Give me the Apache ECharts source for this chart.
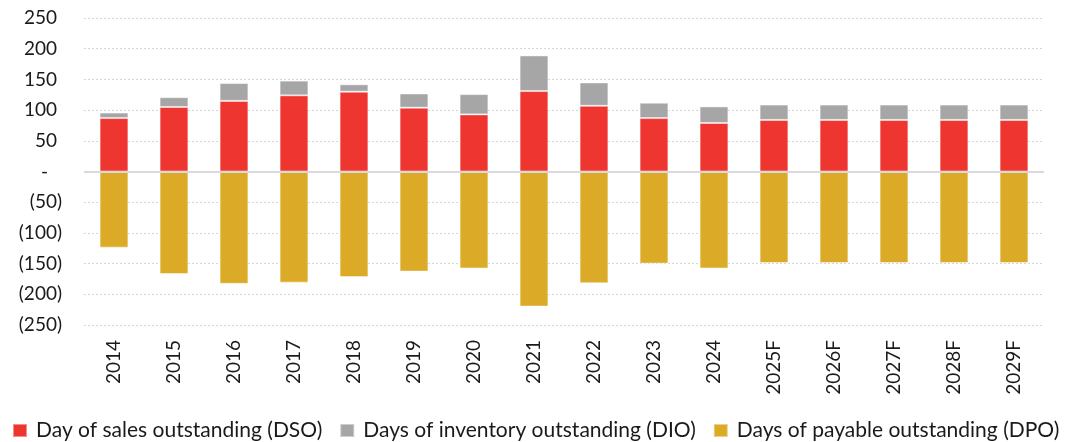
<!DOCTYPE html>
<html>
<head>
<meta charset="utf-8">
<script src="https://cdn.jsdelivr.net/npm/echarts@6/dist/echarts.min.js"></script>
<style>
  html, body { margin: 0; padding: 0; background: #fff; }
  #chart { width: 1075px; height: 442px; }
</style>
</head>
<body>
<div id="chart"></div>
<script>
var years = ['2014', '2015', '2016', '2017', '2018', '2019', '2020', '2021', '2022', '2023', '2024', '2025F', '2026F', '2027F', '2028F', '2029F']
var dso = [87, 105, 115, 124, 130, 104, 93, 131, 107, 87, 79, 84, 84, 84, 84, 84]
var dio = [9, 16, 29, 24, 12, 23, 33, 58, 38, 25, 27, 25, 25, 25, 25, 25]
var dpo = [-124, -167, -183, -181, -172, -163, -158, -220, -182, -150, -158, -149, -149, -149, -149, -149]
var yTicks = [-250, -200, -150, -100, -50, 0, 50, 100, 150, 200, 250]

var font = 'Lato, "Noto Sans", sans-serif'
var txt = '#1a1a1a'
var myChart = echarts.init(document.getElementById('chart'))

function barStyle (color) {
  return {
    color: color,
    borderColor: 'rgba(255,255,255,0.45)',
    borderWidth: 1
  }
}

myChart.setOption({
  animation: false,
  textStyle: { fontFamily: font },
  grid: {
    left: 84,
    right: 31,
    top: 18,
    bottom: 117
  },
  legend: {
    left: 7,
    bottom: -4,
    itemWidth: 14,
    itemHeight: 13,
    itemGap: 17,
    icon: 'rect',
    textStyle: { fontSize: 21, color: txt, fontFamily: font, padding: [0, 0, 0, 4] },
    data: ['Day of sales outstanding (DSO)', 'Days of inventory outstanding (DIO)', 'Days of payable outstanding (DPO)']
  },
  xAxis: {
    type: 'category',
    data: years,
    axisLine: { show: false, onZero: false },
    axisTick: { show: false },
    axisLabel: {
      rotate: 90,
      margin: 15,
      fontSize: 19,
      color: txt,
      fontFamily: font
    }
  },
  yAxis: {
    type: 'value',
    min: yTicks[0],
    max: yTicks[yTicks.length - 1],
    interval: 50,
    axisLine: { show: false },
    axisTick: { show: false },
    splitLine: {
      lineStyle: { color: '#d6d6d6', type: [2, 2], width: 1 }
    },
    axisLabel: {
      margin: 22,
      fontSize: 19,
      color: txt,
      fontFamily: font,
      formatter: function (v) {
        if (v === 0) return '{z|-}'
        if (v < 0) return '(' + Math.abs(v) + ')'
        return '{p|' + v + '}'
      },
      rich: {
        p: { fontSize: 19, fontFamily: font, color: txt, padding: [0, 5, 0, 0] },
        z: { fontSize: 19, fontFamily: font, color: txt, padding: [0, 14, 0, 0] }
      }
    }
  },
  series: [
    {
      name: 'Day of sales outstanding (DSO)',
      type: 'bar',
      stack: 'pos',
      barWidth: '48%',
      itemStyle: barStyle('#ee3530'),
      data: dso
    },
    {
      name: 'Days of inventory outstanding (DIO)',
      type: 'bar',
      stack: 'pos',
      barWidth: '48%',
      itemStyle: barStyle('#a6a6a6'),
      data: dio
    },
    {
      name: 'Days of payable outstanding (DPO)',
      type: 'bar',
      stack: 'neg',
      barGap: '-100%',
      barWidth: '48%',
      itemStyle: barStyle('#dbab28'),
      data: dpo,
      markLine: {
        silent: true,
        symbol: 'none',
        label: { show: false },
        lineStyle: { color: '#d9d9d9', type: 'solid', width: 2 },
        data: [{ yAxis: 0 }]
      }
    }
  ]
})
</script>
</body>
</html>
